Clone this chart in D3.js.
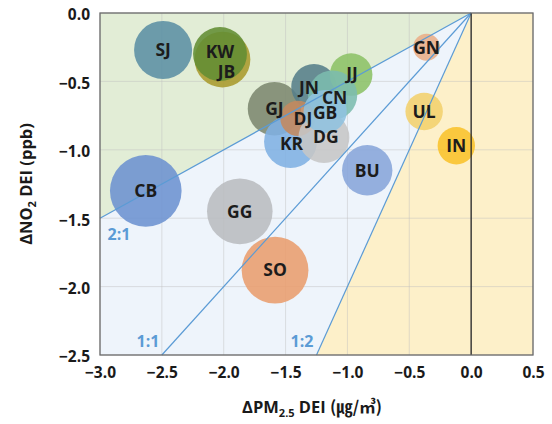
<!DOCTYPE html>
<html>
<head>
<meta charset="utf-8">
<script src="https://cdn.jsdelivr.net/npm/d3@7"></script>
<style>
  html, body { margin: 0; padding: 0; background: #ffffff; }
  svg { display: block; }
  text { font-family: "Open Sans", "Noto Sans CJK KR", sans-serif; font-weight: 700; }
</style>
</head>
<body>
<svg id="chart" width="552" height="424"></svg>
<script>
// Regional DEI changes: PM2.5 (x) vs NO2 (y); bubble area ~ size
const regions = ["SJ","JB","KW","GJ","JN","JJ","CN","KR","DJ","DG","GB","BU","GN","UL","IN","CB","GG","SO"];
const dPM     = [-2.49,-2.01,-2.03,-1.59,-1.27,-0.97,-1.12,-1.46,-1.40,-1.19,-1.18,-0.84,-0.36,-0.38,-0.12,-2.63,-1.87,-1.585];
const dNO2    = [-0.27,-0.34,-0.30,-0.70,-0.54,-0.45,-0.60,-0.94,-0.77,-0.91,-0.72,-1.15,-0.25,-0.72,-0.97,-1.30,-1.45,-1.88];
const sizes   = [65,60,56,55,40,35,47,54,24,50,36,49,14,27,27,99,83,86];
const colors  = ["#5b8fa4","#a99a2c","#628d33","#7c8870","#557e8a","#8cc266","#7cbcae","#80b0e2","#c4895e","#c6c6c6","#8fc2df","#87a5da","#e9ae88","#f2d06c","#f9c22a","#6c92d0","#b9bcbf","#e99d6d"];

const xTicks = [-3.0,-2.5,-2.0,-1.5,-1.0,-0.5,0.0,0.5];
const yTicks = [0.0,-0.5,-1.0,-1.5,-2.0,-2.5];

// Reference ratio lines through the origin: ΔPM : ΔNO2
const ratioNames  = ["2:1","1:1","1:2"];
const ratioSlopes = [0.5, 1, 2];

const svg = d3.select("#chart");
const L = 100, R = 533, T = 13, B = 355;

const x = d3.scaleLinear().domain([-3, 0.5]).range([L, R]);
const y = d3.scaleLinear().domain([0, -2.5]).range([T, B]);
const r = d3.scaleSqrt().domain([0, 100]).range([0, 36]);

// where each ratio line leaves the plot (left or bottom edge)
function lineEnd(s) {
  const xAtBottom = -2.5 / s;
  return xAtBottom >= -3 ? [xAtBottom, -2.5] : [-3, -3 * s];
}
const e21 = lineEnd(ratioSlopes[0]);
const e12 = lineEnd(ratioSlopes[2]);

const poly = pts => d3.line()(pts.map(p => [x(p[0]), y(p[1])])) + "Z";

// background zones
svg.append("path").attr("d", poly([[-3,0],[0,0],e21])).attr("fill", "#e2edd6");
svg.append("path").attr("d", poly([e21,[0,0],e12,[-3,-2.5]])).attr("fill", "#eef4fb");
svg.append("path").attr("d", poly([[0,0],[0.5,0],[0.5,-2.5],e12])).attr("fill", "#fdf0c9");

// grid
svg.append("g").selectAll("line.gx").data(xTicks).join("line")
  .attr("x1", d => x(d)).attr("x2", d => x(d)).attr("y1", T).attr("y2", B)
  .attr("stroke", "#bfbfbf").attr("stroke-opacity", 0.45).attr("stroke-width", 1);
svg.append("g").selectAll("line.gy").data(yTicks).join("line")
  .attr("x1", L).attr("x2", R).attr("y1", d => y(d)).attr("y2", d => y(d))
  .attr("stroke", "#bfbfbf").attr("stroke-opacity", 0.45).attr("stroke-width", 1);

// bubbles
const data = regions.map((k, i) => ({ k, px: dPM[i], ny: dNO2[i], s: sizes[i], c: colors[i] }));
svg.append("g").selectAll("circle").data(data).join("circle")
  .attr("cx", d => x(d.px)).attr("cy", d => y(d.ny)).attr("r", d => r(d.s))
  .attr("fill", d => d.c).attr("fill-opacity", 0.88);

// ratio lines
svg.append("g").selectAll("line").data(ratioSlopes).join("line")
  .attr("x1", x(0)).attr("y1", y(0))
  .attr("x2", s => x(lineEnd(s)[0])).attr("y2", s => y(lineEnd(s)[1]))
  .attr("stroke", "#5b9bd5").attr("stroke-width", 1.2);

// zero line
svg.append("line").attr("x1", x(0)).attr("x2", x(0)).attr("y1", T).attr("y2", B)
  .attr("stroke", "#262626").attr("stroke-width", 1.3);

// frame
svg.append("rect").attr("x", L).attr("y", T).attr("width", R - L).attr("height", B - T)
  .attr("fill", "none").attr("stroke", "#6b6b6b").attr("stroke-width", 1.3);

// ratio labels
const ratioLabelPos = [[119, 240], [148, 347], [302, 347]];
svg.append("g").selectAll("text").data(ratioNames).join("text")
  .attr("x", (d, i) => ratioLabelPos[i][0]).attr("y", (d, i) => ratioLabelPos[i][1])
  .attr("text-anchor", "middle").attr("font-size", 16).attr("fill", "#5b9bd5")
  .text(d => d);

// bubble labels (a few nudged apart where bubbles crowd)
const nudge = { KW: [0, -2], JB: [4, 12], JN: [-5, 1], CN: [2, 3], JJ: [1, -1], GB: [0, 1], DJ: [5, 0], KR: [1, 2], DG: [2, -1] };
svg.append("g").selectAll("text").data(data).join("text")
  .attr("x", d => x(d.px) + (nudge[d.k] ? nudge[d.k][0] : 0))
  .attr("y", d => y(d.ny) + (nudge[d.k] ? nudge[d.k][1] : 0))
  .attr("dy", "0.36em").attr("text-anchor", "middle")
  .attr("font-size", 17.5).attr("fill", "#1c1c1c")
  .text(d => d.k);

// axes
const xAxis = svg.append("g").attr("transform", `translate(0,${B})`)
  .call(d3.axisBottom(x).tickValues(xTicks).tickSize(0).tickPadding(12).tickFormat(d3.format(".1f")));
const yAxis = svg.append("g").attr("transform", `translate(${L},0)`)
  .call(d3.axisLeft(y).tickValues(yTicks).tickSize(0).tickPadding(10).tickFormat(d3.format(".1f")));
[xAxis, yAxis].forEach(g => {
  g.select(".domain").remove();
  g.selectAll("text").attr("font-size", 15.5).attr("fill", "#1a1a1a")
    .style("font-family", "'Open Sans', 'Noto Sans CJK KR', sans-serif").style("font-weight", 700);
});
yAxis.selectAll("text").attr("dy", "0.45em");

// axis titles
const xt = svg.append("text").attr("x", 312).attr("y", 413).attr("text-anchor", "middle")
  .attr("font-size", 16.5).attr("fill", "#1a1a1a");
xt.append("tspan").text("ΔPM");
xt.append("tspan").attr("font-size", 11).attr("dy", 4).text("2.5");
xt.append("tspan").attr("dy", -4).text(" DEI ");
xt.append("tspan").style("font-family", "'Noto Sans CJK KR', sans-serif").text("(㎍/㎥)");

const yt = svg.append("text").attr("transform", `translate(32,${(T + B) / 2}) rotate(-90)`)
  .attr("text-anchor", "middle").attr("font-size", 16.5).attr("fill", "#1a1a1a");
yt.append("tspan").text("ΔNO");
yt.append("tspan").attr("font-size", 11).attr("dy", 4).text("2");
yt.append("tspan").attr("dy", -4).text(" DEI (ppb)");
</script>
</body>
</html>
